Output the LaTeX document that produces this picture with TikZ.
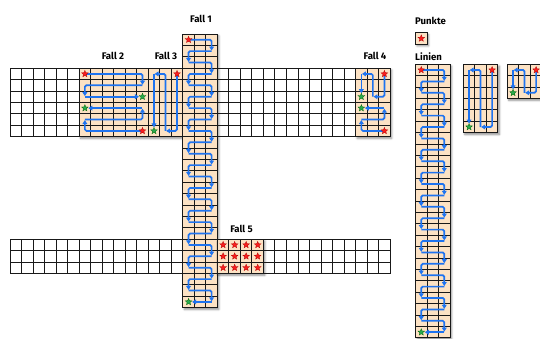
\documentclass[tikz,border=0pt]{standalone}
\usepackage{fontspec}
\setmainfont{Fira Sans}
\usetikzlibrary{shapes.geometric,arrows.meta,shadows,shadows.blur}
\definecolor{tanfill}{RGB}{252,226,196}
\definecolor{arrblue}{RGB}{30,115,240}
\definecolor{starred}{RGB}{250,30,30}
\definecolor{stargreen}{RGB}{40,170,80}
\def\W{11.52}
\def\H{11.4}
\tikzset{
 gridline/.style={draw=black!90, line width=1pt, line cap=rect},
 tanbox/.style={fill=tanfill, blur shadow={shadow xshift=1.5pt, shadow yshift=-1.8pt, shadow blur radius=2pt, shadow blur steps=6, shadow opacity=45}},
 arr/.style={draw=arrblue, line width=1.7pt, rounded corners=1.5pt, -{Triangle[length=4pt,width=4.8pt]}, shorten >=0.6pt},
 rstar/.style={star, star points=5, star point ratio=2.3, minimum size=7pt, inner sep=0pt, fill=starred, draw=red!70!black, line width=0.3pt},
 gstar/.style={rstar, fill=stargreen, draw=green!40!black},
 lbl/.style={font=\fontsize{9.6}{11}\selectfont\bfseries, inner sep=0pt},
}
% grid lines: X Y ncols nrows
\newcommand\gridcells[4]{%
  \foreach \i in {0,...,#3} \draw[gridline] ({#1+\i*\W},#2) -- ++(0,{#4*\H});
  \foreach \j in {0,...,#4} \draw[gridline] (#1,{#2+\j*\H}) -- ++({#3*\W},0);
}
\newcommand\tanregion[4]{\fill[tanbox] (#1,#2) rectangle ++({#3*\W},{#4*\H});}
% horizontal snake going down: X Y ncols nrows name
\newcommand\rowsnake[5]{%
  \pgfmathtruncatemacro\nrm{#4-1}
  \foreach \r in {1,...,\nrm}{
    \pgfmathsetmacro\ya{#2+(\r-0.5)*\H}
    \pgfmathsetmacro\yb{#2+(\r+0.5)*\H}
    \pgfmathsetmacro\xa{ifthenelse(mod(\r,2)==1,#1+0.5*\W,#1+(#3-0.5)*\W)}
    \pgfmathsetmacro\xb{ifthenelse(mod(\r,2)==1,#1+(#3-0.5)*\W,#1+0.5*\W)}
    \draw[arr] (\xa,\ya) -| (\xb,\yb);
  }
  \pgfmathsetmacro\yn{#2+(#4-0.5)*\H}
  \pgfmathsetmacro\xs{ifthenelse(mod(#4,2)==1,#1+0.5*\W,#1+(#3-0.5)*\W)}
  \pgfmathsetmacro\xe{ifthenelse(mod(#4,2)==1,#1+(#3-0.5)*\W,#1+0.5*\W)}
  \draw[arr, shorten >=3.5pt] (\xs,\yn) -- (\xe,\yn);
  \node[rstar] (#5s) at ({#1+0.5*\W},{#2+0.5*\H}) {};
  \node[gstar] (#5e) at (\xe,\yn) {};
}
% horizontal snake of 3 rows going up: X Y(top) ncols name
\newcommand\rowsnakeup[4]{%
  \pgfmathsetmacro\ca{#1+0.5*\W}
  \pgfmathsetmacro\cb{#1+(#3-0.5)*\W}
  \pgfmathsetmacro\ra{#2+0.5*\H}
  \pgfmathsetmacro\rb{#2+1.5*\H}
  \pgfmathsetmacro\rc{#2+2.5*\H}
  \draw[arr] (\cb,\rc) -| (\ca,\rb);
  \draw[arr] (\ca,\rb) -| (\cb,\ra);
  \draw[arr, shorten >=3.5pt] (\cb,\ra) -- (\ca,\ra);
  \node[rstar] (#4s) at (\cb,\rc) {};
  \node[gstar] (#4e) at (\ca,\ra) {};
}
% vertical snake over 3 columns: X Y nrows name
\newcommand\colsnake[4]{%
  \pgfmathsetmacro\ca{#1+0.5*\W}
  \pgfmathsetmacro\cb{#1+1.5*\W}
  \pgfmathsetmacro\cc{#1+2.5*\W}
  \pgfmathsetmacro\ra{#2+0.5*\H}
  \pgfmathsetmacro\rn{#2+(#3-0.5)*\H}
  \draw[arr] (\cc,\ra) |- (\cb,\rn);
  \draw[arr] (\cb,\rn) |- (\ca,\ra);
  \draw[arr, shorten >=3.5pt] (\ca,\ra) -- (\ca,\rn);
  \node[rstar] (#4s) at (\cc,\ra) {};
  \node[gstar] (#4e) at (\ca,\rn) {};
}
\begin{document}
\begin{tikzpicture}[x=1pt,y=-1pt]
\useasboundingbox (0,0) rectangle (540,338);
% tan regions
\tanregion{79.12}{68.2}{9}{6}
\tanregion{355.6}{68.2}{3}{6}
\tanregion{182.8}{34}{3}{24}
\tanregion{217.36}{239.2}{4}{3}
\tanregion{415.5}{32.7}{1}{1}
\tanregion{415.5}{64.3}{3}{24}
\tanregion{463.3}{64.3}{3}{6}
\tanregion{507.3}{64.3}{3}{3}
% grids
\gridcells{10}{68.2}{33}{6}
\gridcells{10}{239.2}{33}{3}
\gridcells{182.8}{34}{3}{24}
\gridcells{415.5}{32.7}{1}{1}
\gridcells{415.5}{64.3}{3}{24}
\gridcells{463.3}{64.3}{3}{6}
\gridcells{507.3}{64.3}{3}{3}
% Fall 1
\rowsnake{182.8}{34}{3}{24}{fa}
% Fall 2
\rowsnake{79.12}{68.2}{6}{3}{fb}
\rowsnakeup{79.12}{102.4}{6}{fc}
% Fall 3
\colsnake{148.24}{68.2}{6}{fd}
% Fall 4
\colsnake{355.6}{68.2}{3}{fe}
\rowsnakeup{355.6}{102.4}{3}{ff}
% Fall 5 stars
\foreach \i in {0,...,3}
  \foreach \j in {0,...,2}
    \node[rstar] (p\i\j) at ({217.36+(\i+0.5)*\W},{239.2+(\j+0.5)*\H}) {};
% legend
\node[rstar] (pk) at ({415.5+0.5*\W},{32.7+0.5*\H}) {};
\rowsnake{415.5}{64.3}{3}{24}{la}
\colsnake{463.3}{64.3}{6}{lb}
\colsnake{507.3}{64.3}{3}{lc}
% labels
\node[lbl] (t1) at (201,19) {Fall 1};
\node[lbl] (t2) at (113,56) {Fall 2};
\node[lbl] (t3) at (166,56) {Fall 3};
\node[lbl] (t4) at (375,56) {Fall 4};
\node[lbl] (t5) at (241.5,229) {Fall 5};
\node[lbl] (tp) at (430.5,20.5) {Punkte};
\node[lbl] (tl) at (428.5,56.5) {Linien};
\end{tikzpicture}
\end{document}
